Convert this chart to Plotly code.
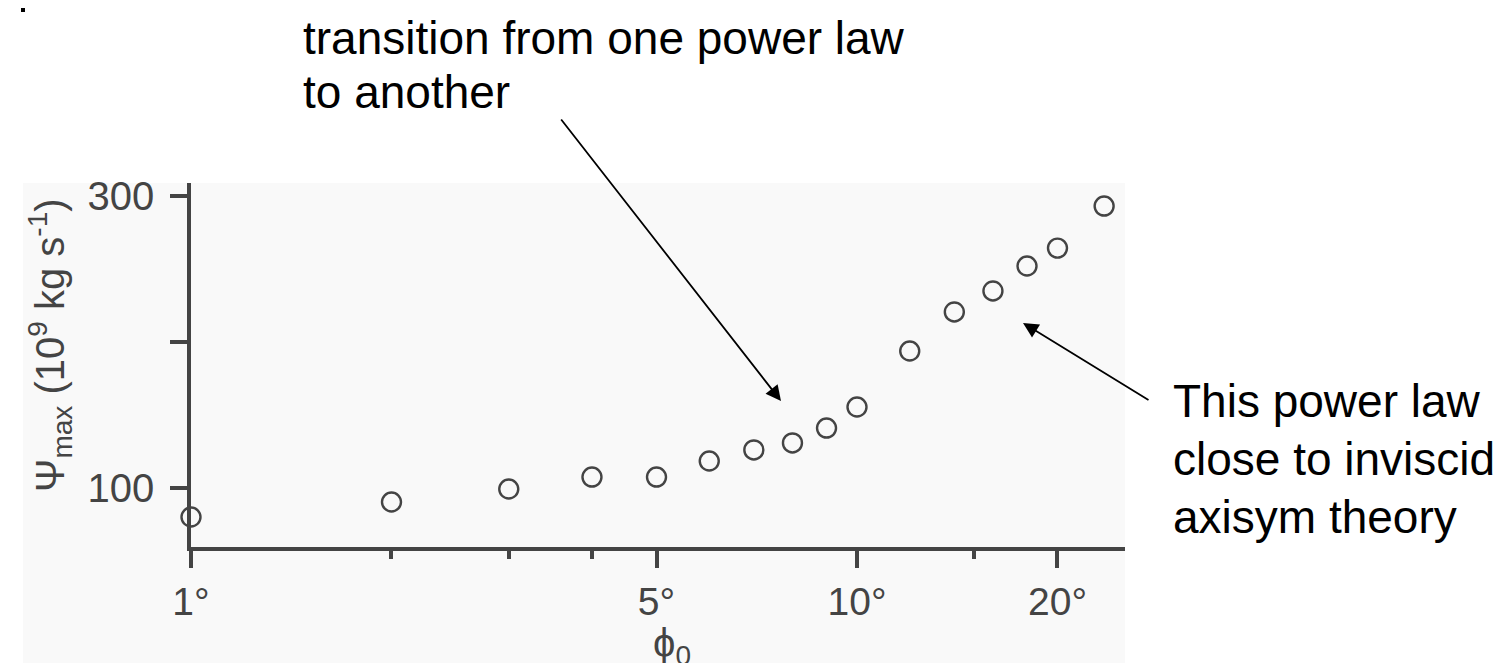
import math
import plotly.graph_objects as go

# ---- data ----
phi0_deg = [1, 2, 3, 4, 5, 6, 7, 8, 9, 10, 12, 14, 16, 18, 20, 23.5]
psi_max = [80.1, 90.4, 99.3, 107.5, 107.5, 118.5, 126.1, 130.9, 141.1, 155.5,
           193.9, 220.7, 235.1, 252.2, 264.5, 293.3]

x_major_vals = [1, 5, 10, 20]
x_major_text = ["1°", "5°", "10°", "20°"]
x_minor_vals = [2, 3, 4, 15]
y_tick_vals = [100, 200, 300]
y_tick_text = ["100", "", "300"]

# ---- layout geometry (pixels) ----
W, H = 1512, 663
PL, PR, PT, PB = 183, 1117, 175, 539
PW, PH = PR - PL, PB - PT

def px(xp):
    return (xp - PL) / PW

def py(yp):
    return (PB - yp) / PH

INK = "#444444"
FONT = "Liberation Sans, Arial, Helvetica, sans-serif"

fig = go.Figure()
fig.add_trace(go.Scatter(
    x=phi0_deg, y=psi_max, mode="markers", cliponaxis=False,
    marker=dict(symbol="circle-open", size=19, color=INK,
                line=dict(width=2.4, color=INK)),
    showlegend=False, hoverinfo="skip"))

fig.update_layout(
    width=W, height=H, autosize=False,
    margin=dict(l=PL, r=W - PR, t=PT, b=H - PB, pad=0),
    paper_bgcolor="white", plot_bgcolor="rgba(0,0,0,0)",
    font=dict(family=FONT, color=INK),
    xaxis=dict(type="log", range=[0, (PR - PL) / 666.0],
               showline=True, linecolor=INK, linewidth=3.5,
               showgrid=False, zeroline=False,
               ticks="outside", ticklen=17, tickwidth=3.5, tickcolor=INK,
               tickvals=x_major_vals, ticktext=x_major_text,
               tickfont=dict(size=39, color=INK, family=FONT),
               minor=dict(tickvals=x_minor_vals, ticks="outside", ticklen=8,
                          tickwidth=3.5, tickcolor=INK)),
    yaxis=dict(range=[100 - (PB - 480) / 1.4585, 300 + (188.3 - PT) / 1.4585],
               showline=True, linecolor=INK, linewidth=3.5,
               showgrid=False, zeroline=False,
               ticks="outside", ticklen=17, tickwidth=3.5, tickcolor=INK,
               tickvals=y_tick_vals, ticktext=y_tick_text,
               ticklabelstandoff=8,
               tickfont=dict(size=40, color=INK, family=FONT)),
)

# light grey panel behind the chart
fig.add_shape(type="rect", xref="paper", yref="paper",
              x0=px(15), x1=px(1117), y0=py(663), y1=py(175),
              fillcolor="#f9f9f9", line=dict(width=0), layer="below")
# small dark speck at the top-left corner of the reference
fig.add_shape(type="rect", xref="paper", yref="paper",
              x0=px(13), x1=px(17), y0=py(4), y1=py(0),
              fillcolor="black", line=dict(width=0))

# axis titles
fig.add_annotation(xref="paper", yref="paper", x=px(664), y=py(638),
                   text="ϕ<sub>0</sub>", showarrow=False,
                   font=dict(size=40, color=INK, family=FONT),
                   xanchor="center", yanchor="middle")
fig.add_annotation(xref="paper", yref="paper", x=px(42), y=py(337),
                   text="Ψ<sub>max</sub> (10<sup>9</sup> kg s<sup>-1</sup>)",
                   textangle=-90, showarrow=False,
                   font=dict(size=40, color=INK, family=FONT),
                   xanchor="center", yanchor="middle")

# callout texts
TXT = dict(size=46, color="black", family=FONT)
for txt, xl, ym in [("transition from one power law", 293, 30),
                    ("to another", 293, 84),
                    ("This power law", 1163, 393),
                    ("close to inviscid", 1163, 451),
                    ("axisym theory", 1163, 509)]:
    fig.add_annotation(xref="paper", yref="paper", x=px(xl), y=py(ym),
                       text=txt, showarrow=False, font=TXT,
                       xanchor="left", yanchor="middle")

# arrows (head, tail in pixels)
for (hx, hy), (tx, ty) in [((773, 393), (552, 110)),
                           ((1015, 315), (1142, 393))]:
    fig.add_annotation(xref="paper", yref="paper", x=px(hx), y=py(hy),
                       ax=tx - hx, ay=ty - hy, text="", showarrow=True,
                       arrowhead=2, arrowsize=1.7, arrowwidth=1.8,
                       arrowcolor="black", standoff=0)

fig.write_html("out.html")
